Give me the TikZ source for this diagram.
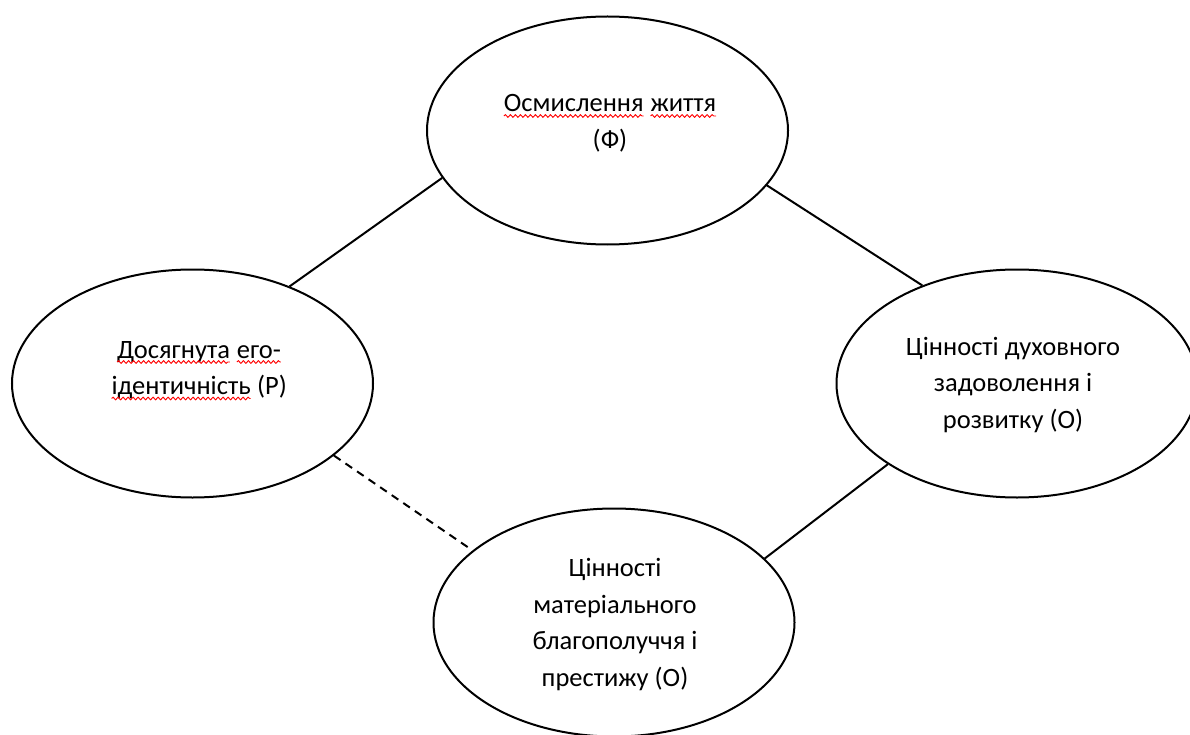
\documentclass[tikz,border=0pt]{standalone}
\usepackage{fontspec}
\setmainfont{Carlito}
\usepackage{tikz}
\usetikzlibrary{positioning,shapes.geometric,decorations.pathmorphing}

% red spell-check squiggle under a word
\newcommand{\wavy}[1]{\tikz[baseline=(w.base)]{\node[inner sep=0pt,outer sep=0pt] (w) {#1};
  \draw[red,line width=0.9pt,decorate,decoration={snake,segment length=5pt,amplitude=1.3pt}]
    ([yshift=-4pt]w.base west) -- ([yshift=-4pt]w.base east);}}

\begin{document}
\begin{tikzpicture}[x=1pt,y=-1pt,
    oval/.style={draw,ellipse,line width=2pt,inner sep=0pt,minimum width=361pt,minimum height=228pt},
    txt/.style={anchor=base,text width=320pt,align=flush center,inner sep=0pt,font=\fontsize{26.5}{36.5}\selectfont},
    link/.style={line width=2pt}]
    \useasboundingbox (0,0) rectangle (1190,735);

    \node[oval] (phi) at (607.5,130.5) {};
    \node[oval] (ego) at (192.5,383.5) {};
    \node[oval] (spirit) at (1017,383.5) {};
    \node[oval] (mater) at (614,622.5) {};

    \node[txt] (phi-t) at ([shift={(2.5,-18.5)}]phi.center) {\wavy{Осмислення} \wavy{життя}\\(Ф)};
    \node[txt] (ego-t) at ([shift={(6.5,-25.5)}]ego.center) {\wavy{Досягнута} \wavy{его-}\\\wavy{ідентичність} (Р)};
    \node[txt] (spirit-t) at ([shift={(-4,-28.5)}]spirit.center) {Цінності духовного\\задоволення і\\розвитку (О)};
    \node[txt] (mater-t) at ([shift={(1,-46)}]mater.center) {Цінності\\матеріального\\благополуччя і\\престижу (О)};

    \draw[link] (phi.196) -- (ego.45);
    \draw[link] (phi.341) -- (spirit.134);
    \draw[link] (spirit.212) -- (mater.23);
    \draw[link,dash pattern=on 8pt off 6pt] (ego.333) -- (mater.153);
\end{tikzpicture}
\end{document}
